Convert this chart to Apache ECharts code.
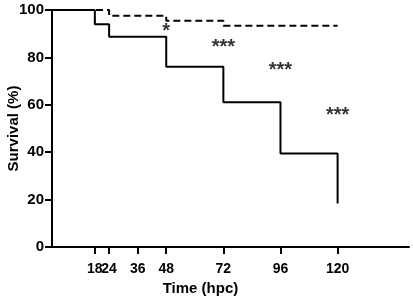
<!DOCTYPE html>
<html>
<head>
<meta charset="utf-8">
<script src="https://cdn.jsdelivr.net/npm/echarts@6/dist/echarts.min.js"></script>
<style>
  html, body { margin: 0; padding: 0; background: #fff; }
  #chart { width: 413px; height: 302px; }
</style>
</head>
<body>
<div id="chart"></div>
<script>
// survival curves (Kaplan-Meier style steps)
const infectedTime = [0, 18, 24, 48, 72, 96, 120];
const infectedSurvival = [100, 94, 88.7, 76.1, 61.1, 39.5, 18.4];
const controlTime = [0, 24, 48, 72, 120];
const controlSurvival = [100, 97.6, 95.5, 93.4, 93.4];

// x tick labels (split over two axes so the close 18/24 pair both show)
const timeTicks = [18, 36, 48, 72, 96, 120];
const timeTicksExtra = [24];

// significance marks
const markTime = [48, 72, 96, 120];
const markY = [91, 84, 74.5, 55.5];
const markText = ['*', '***', '***', '***'];

const font = 'Liberation Sans, Arial, sans-serif';

const zip = (xs, ys) => xs.map((x, i) => [x, ys[i]]);

const xBase = (ticks, showLine) => ({
  type: 'value',
  min: 0,
  max: 150,
  position: 'bottom',
  splitLine: {show: false},
  axisLine: {show: showLine, onZero: false, lineStyle: {color: '#000', width: 2}},
  axisTick: {show: true, length: 7, lineStyle: {color: '#000', width: 2}, customValues: ticks},
  axisLabel: {
    color: '#000', fontFamily: font, fontWeight: 'bold', fontSize: 14,
    margin: 15, customValues: ticks, hideOverlap: false,
    showMinLabel: true, showMaxLabel: true
  }
});

const chart = echarts.init(document.getElementById('chart'));
chart.setOption({
  animation: false,
  grid: {left: 52, right: 4, top: 10, bottom: 55, containLabel: false, outerBoundsMode: 'none'},
  xAxis: [
    Object.assign(xBase(timeTicks, true), {
      name: 'Time (hpc)',
      nameLocation: 'middle',
      nameGap: 34,
      nameMoveOverlap: false,
      nameTextStyle: {
        color: '#000', fontFamily: font, fontWeight: 'bold', fontSize: 15,
        padding: [0, 60, 0, 0]
      }
    }),
    Object.assign(xBase(timeTicksExtra, false), {offset: 0})
  ],
  yAxis: {
    type: 'value',
    min: 0,
    max: 100,
    interval: 20,
    name: 'Survival (%)',
    nameLocation: 'middle',
    nameGap: 31,
    nameMoveOverlap: false,
    nameTextStyle: {color: '#000', fontFamily: font, fontWeight: 'bold', fontSize: 15},
    splitLine: {show: false},
    axisLine: {show: true, lineStyle: {color: '#000', width: 2}},
    axisTick: {show: true, length: 7, lineStyle: {color: '#000', width: 2}},
    axisLabel: {color: '#000', fontFamily: font, fontWeight: 'bold', fontSize: 15, margin: 8}
  },
  series: [
    {
      type: 'line',
      step: 'end',
      data: zip(controlTime, controlSurvival),
      symbol: 'none',
      lineStyle: {color: '#000', width: 2, type: [7, 4]},
      z: 2
    },
    {
      type: 'line',
      step: 'end',
      data: zip(infectedTime, infectedSurvival),
      symbol: 'none',
      lineStyle: {color: '#000', width: 2},
      z: 3
    },
    {
      type: 'scatter',
      data: markTime.map((t, i) => ({value: [t, markY[i]], label: {formatter: markText[i]}})),
      symbolSize: 0,
      label: {
        show: true,
        position: 'inside',
        color: '#000',
        fontFamily: font,
        fontWeight: 'bold',
        fontSize: 20
      },
      z: 4
    }
  ]
});
</script>
</body>
</html>
